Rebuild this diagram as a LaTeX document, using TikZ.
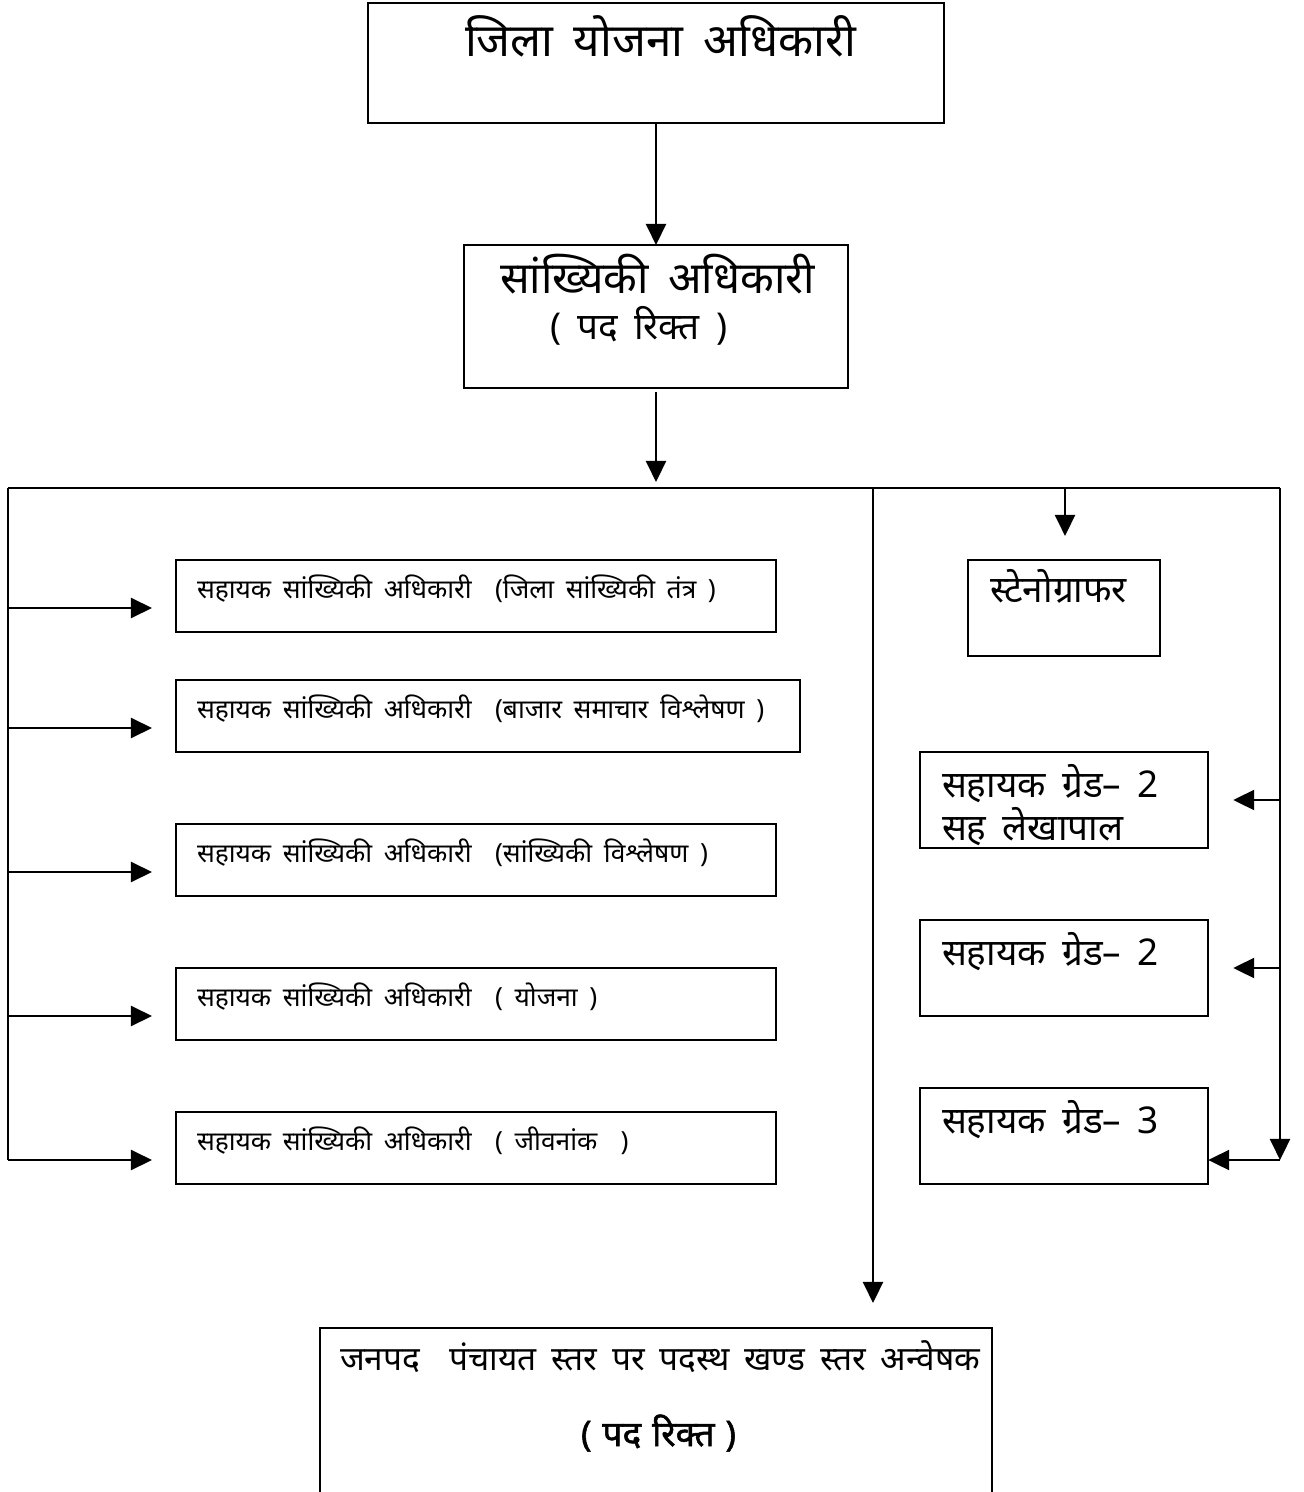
\documentclass[tikz,border=0pt]{standalone}
\usepackage{fontspec}
\setmainfont{Noto Sans}[Script=Devanagari, WordSpace=1.7]
\newfontfamily\heavyhindi{Noto Sans}[Script=Devanagari, WordSpace=1.2, FakeBold=1.5]
\usetikzlibrary{arrows.meta}

\begin{document}
\begin{tikzpicture}[x=0.01cm, y=-0.01cm,
	every node/.style={inner sep=0pt, outer sep=0pt},
	post/.style={shape=rectangle, draw, line width=0.6pt, anchor=north west},
	title/.style={anchor=base west, font=\fontsize{13}{15}\selectfont},
	small/.style={anchor=base west, font=\fontsize{7.5}{9}\selectfont},
	mid/.style={anchor=base west, font=\fontsize{10.5}{12}\selectfont},
	wire/.style={line width=0.6pt},
	link/.style={wire, -{Triangle[length=2.1mm, width=2mm]}}]
	\useasboundingbox (0,0) rectangle (1304,1492);

	% top of the chart
	\node[post, minimum width=5.76cm, minimum height=1.2cm] (dpo) at (368,3) {};
	\node[title] (dpoText) at (465,57) {जिला योजना अधिकारी};
	\node[post, minimum width=3.84cm, minimum height=1.43cm] (so) at (464,245) {};
	\node[title, font=\fontsize{12.5}{15}\selectfont] (soText) at (500,294) {सांख्यिकी अधिकारी};
	\node[mid] (soVacant) at (550,340) {( पद रिक्त )};

	% assistant statistical officers
	\node[post, minimum width=6cm, minimum height=0.72cm] (aso1) at (176,560) {};
	\node[small] (aso1Text) at (197,598) {सहायक सांख्यिकी अधिकारी \ (जिला सांख्यिकी तंत्र )};
	\node[post, minimum width=6.24cm, minimum height=0.72cm] (aso2) at (176,680) {};
	\node[small] (aso2Text) at (197,718) {सहायक सांख्यिकी अधिकारी \ (बाजार समाचार विश्लेषण )};
	\node[post, minimum width=6cm, minimum height=0.72cm] (aso3) at (176,824) {};
	\node[small] (aso3Text) at (197,862) {सहायक सांख्यिकी अधिकारी \ (सांख्यिकी विश्लेषण )};
	\node[post, minimum width=6cm, minimum height=0.72cm] (aso4) at (176,968) {};
	\node[small] (aso4Text) at (197,1006) {सहायक सांख्यिकी अधिकारी \ ( योजना )};
	\node[post, minimum width=6cm, minimum height=0.72cm] (aso5) at (176,1112) {};
	\node[small] (aso5Text) at (197,1150) {सहायक सांख्यिकी अधिकारी \ ( जीवनांक \ )};

	% office staff
	\node[post, minimum width=1.92cm, minimum height=0.96cm] (steno) at (968,560) {};
	\node[mid] (stenoText) at (990,603) {स्टेनोग्राफर};
	\node[post, minimum width=2.88cm, minimum height=0.96cm] (ag2a) at (920,752) {};
	\node[mid] (ag2aText) at (942,797) {सहायक ग्रेड– 2};
	\node[mid] (ag2aSub) at (942,840) {सह लेखापाल};
	\node[post, minimum width=2.88cm, minimum height=0.96cm] (ag2b) at (920,920) {};
	\node[mid] (ag2bText) at (942,965) {सहायक ग्रेड– 2};
	\node[post, minimum width=2.88cm, minimum height=0.96cm] (ag3) at (920,1088) {};
	\node[mid] (ag3Text) at (942,1133) {सहायक ग्रेड– 3};

	% block level
	\node[post, minimum width=6.72cm, minimum height=1.8cm] (bli) at (320,1328) {};
	\node[small, font=\fontsize{9.5}{11}\selectfont] (bliText) at (340,1370) {जनपद \ पंचायत स्तर पर पदस्थ खण्ड स्तर अन्वेषक};
	\node[mid, font=\fontsize{10}{12}\heavyhindi] (bliVacant) at (581,1446) {( पद रिक्त )};

	% bus lines
	\coordinate (busL) at (8,488);
	\coordinate (busC) at (656,488);
	\coordinate (busM) at (873,488);
	\coordinate (busS) at (1065,488);
	\coordinate (busR) at (1280,488);
	\coordinate (endL) at (8,1160);
	\coordinate (endR) at (1280,1160);

	\draw[link] (dpo.south -| busC) -- (so.north -| busC);
	\draw[link, shorten >=0.06cm] ([yshift=-0.04cm]so.south -| busC) -- (busC);
	\draw[wire] (busL) -- (busR);
	\draw[wire] (busL) -- (endL);
	\draw[link] (busR) -- (endR);
	\draw[link, shorten >=0.24cm] (busS) -- (steno.north -| busS);
	\draw[link, shorten >=0.25cm] (busM) -- (bli.north -| busM);
	\foreach \b/\y in {aso1/608, aso2/728, aso3/872, aso4/1016, aso5/1160}
		\draw[link, shorten >=0.24cm] (8,\y) -- (\b.west |- 0,\y);
	\foreach \b/\y in {ag2a/800, ag2b/968}
		\draw[link, shorten >=0.25cm] (1280,\y) -- (\b.east |- 0,\y);
	\draw[link] (endR) -- (ag3.east |- endR);
\end{tikzpicture}
\end{document}
